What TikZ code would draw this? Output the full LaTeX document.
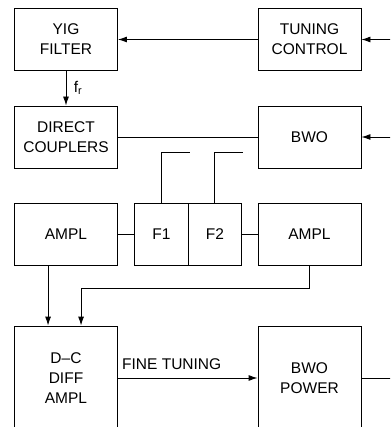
\documentclass[tikz,border=0pt]{standalone}
\usepackage{fontspec}
\setmainfont{Liberation Sans}
\usetikzlibrary{arrows.meta}
\tikzset{
  blk/.style={draw, line width=0.9pt, minimum width=103pt, minimum height=62pt,
    align=center, inner sep=0pt, font=\fontsize{15.5}{20}\selectfont},
  half/.style={blk, minimum width=53.5pt},
  arr/.style={-{Latex[length=9pt,width=6pt]}},
  wire/.style={line width=0.9pt}
}
\begin{document}
\begin{tikzpicture}[x=1pt,y=-1pt]
  \useasboundingbox (0,0) rectangle (390,427);
  \clip (0,0) rectangle (390,427);
  % blocks
  \node[blk] (yig) at (66,39.5) {YIG\\FILTER};
  \node[blk] (tune) at (309.5,39.5) {TUNING\\CONTROL};
  \node[blk] (dcpl) at (66,137) {DIRECT\\COUPLERS};
  \node[blk] (bwo) at (309.5,137) {BWO};
  \node[blk] (amp1) at (66,234) {AMPL};
  \node[half] (f1) at (161.5,234) {F1};
  \node[half] (f2) at (215,234) {F2};
  \node[blk] (amp2) at (309.5,234) {AMPL};
  \node[blk, minimum height=104pt] (diff) at (66,378) {D--C\\DIFF\\AMPL};
  \node[blk, minimum height=104pt] (bwop) at (309.5,378) {BWO\\POWER};
  % free ends
  \coordinate (in1) at (392,39.5);
  \coordinate (in2) at (392,137);
  \coordinate (out1) at (392,378);
  \coordinate (s1) at (190,152);
  \coordinate (s2) at (243,152);
  % connectors
  \draw[wire, arr] (tune) -- (yig);
  \draw[wire, arr] (in1) -- (tune);
  \draw[wire, arr] (yig) -- (dcpl) node[midway, right=4pt, font=\fontsize{15.5}{20}\selectfont] (fr) {f\textsubscript{r}};
  \draw[wire] (dcpl) -- (bwo);
  \draw[wire, arr] (in2) -- (bwo);
  \draw[wire] (amp1) -- (f1);
  \draw[wire] (f2) -- (amp2);
  \draw[wire] (f1.north) |- (s1);
  \draw[wire] ([xshift=-0.5pt]f2.north) |- (s2);
  \draw[wire, arr] ([xshift=34pt]amp1.south west) -- ([xshift=34pt]diff.north west);
  \draw[wire, arr] (amp2.south) -- ++(0,23) -| ([xshift=67pt]diff.north west);
  \draw[wire, arr] (diff) -- (bwop);
  \node[anchor=south west, inner sep=0pt, font=\fontsize{15.5}{20}\selectfont] (fine) at (122,370) {FINE TUNING};
  \draw[wire] (bwop) -- (out1);
\end{tikzpicture}
\end{document}
